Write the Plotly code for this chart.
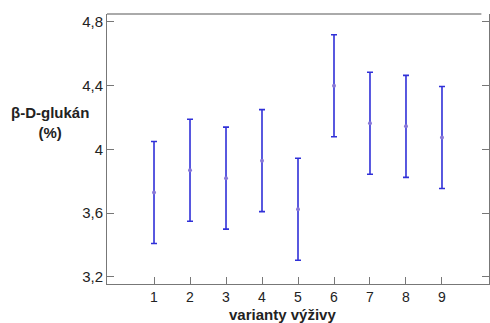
import plotly.graph_objects as go

varianty = [1, 2, 3, 4, 5, 6, 7, 8, 9]
prumer = [3.73, 3.87, 3.82, 3.93, 3.625, 4.40, 4.165, 4.145, 4.075]
chyba = [0.32, 0.32, 0.32, 0.32, 0.32, 0.32, 0.32, 0.32, 0.32]
y_ticks = [3.2, 3.6, 4.0, 4.4, 4.8]
y_labels = ["3,2", "3,6", "4", "4,4", "4,8"]

fig = go.Figure()
fig.add_trace(go.Scatter(
    x=varianty, y=prumer, mode="markers",
    marker=dict(size=4, color="#8878d8"),
    error_y=dict(type="data", array=chyba, visible=True,
                 color="#3030d8", thickness=1.6, width=3),
    showlegend=False,
))

font = "Liberation Sans, Arial, sans-serif"
fig.update_layout(
    width=490, height=323,
    margin=dict(l=107, r=1, t=14, b=39),
    paper_bgcolor="white", plot_bgcolor="white",
    font=dict(family=font, size=14, color="#222"),
    xaxis=dict(range=[-0.306, 10.306], tickvals=varianty,
               ticks="inside", ticklen=7, tickcolor="#777",
               showline=True, linecolor="#777", linewidth=1,
               showgrid=False, zeroline=False,
               tickfont=dict(size=14)),
    yaxis=dict(range=[3.156, 4.85], tickvals=y_ticks, ticktext=y_labels,
               ticks="inside", ticklen=7, tickcolor="#777",
               showline=True, linecolor="#777", linewidth=1, mirror="ticks",
               showgrid=False, zeroline=False,
               tickfont=dict(size=15)),
    annotations=[
        dict(text="<b>β-D-glukán<br>(%)</b>", xref="paper", yref="paper",
             x=-0.15, y=0.6, xanchor="center", yanchor="middle",
             showarrow=False, font=dict(size=15, color="#222")),
        dict(text="<b>varianty výživy</b>", xref="paper", yref="paper",
             x=0.46, y=-0.113, xanchor="center", yanchor="middle",
             showarrow=False, font=dict(size=15, color="#222")),
    ],
    shapes=[dict(type="line", xref="paper", yref="paper", x0=0, x1=0.98,
                 y0=1, y1=1, line=dict(color="#aaa", width=2))],
)

fig.write_html("out.html")
